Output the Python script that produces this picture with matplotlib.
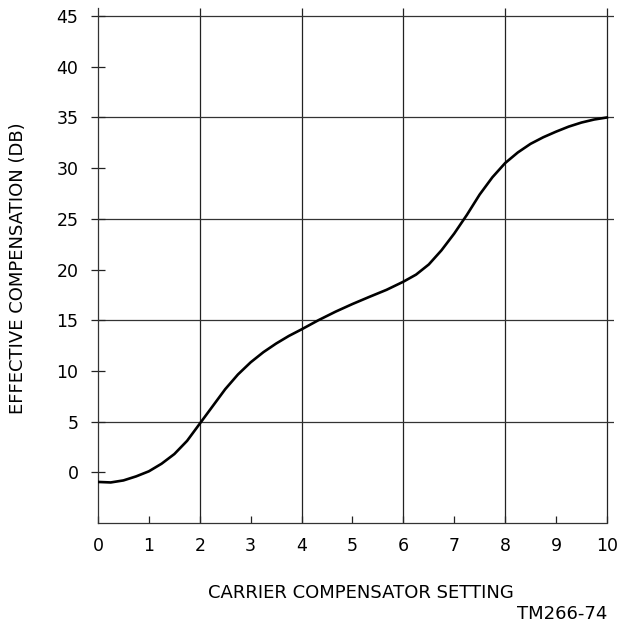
import numpy as np
import matplotlib.pyplot as plt

# ------------------------------------------------------------
# Data
# ------------------------------------------------------------
setting = [0.0, 0.25, 0.5, 0.75, 1.0, 1.25, 1.5, 1.75, 2.0, 2.25, 2.5, 2.75,
           3.0, 3.25, 3.5, 3.75, 4.0, 4.33, 4.67, 5.0, 5.33, 5.67, 6.0, 6.25,
           6.5, 6.75, 7.0, 7.25, 7.5, 7.75, 8.0, 8.25, 8.5, 8.75, 9.0, 9.25,
           9.5, 9.75, 10.0]
compensation = [-0.95, -1.0, -0.8, -0.4, 0.1, 0.85, 1.8, 3.1, 4.8, 6.5, 8.2, 9.65,
                10.85, 11.85, 12.7, 13.45, 14.1, 15.0, 15.85, 16.6, 17.3, 18.0, 18.8, 19.5,
                20.5, 21.9, 23.55, 25.4, 27.4, 29.1, 30.5, 31.55, 32.4, 33.05, 33.6, 34.1,
                34.5, 34.8, 35.0]

x_ticks = list(range(0, 11))
y_ticks = list(range(0, 50, 5))
x_grid = [2, 4, 6, 8, 10]
y_grid = [5, 15, 25, 35, 45]

# ------------------------------------------------------------
# Plot
# ------------------------------------------------------------
fig = plt.figure(figsize=(6.19, 6.24), dpi=100)
ax = fig.add_axes([98 / 619, 101 / 624, 516 / 619, 515 / 624])

ax.set_xlim(0, 10.14)
ax.set_ylim(-5, 45.8)

# grid
ax.vlines(x_grid, -5, 45.8, color='#222222', linewidth=0.9, zorder=1)
ax.hlines(y_grid, 0, 10.14, color='#333333', linewidth=0.9, zorder=1)

# curve
ax.plot(setting, compensation, color='black', linewidth=1.9, zorder=3,
        solid_joinstyle='round')

# frame: only left and bottom
ax.spines['top'].set_visible(False)
ax.spines['right'].set_visible(False)
ax.spines['bottom'].set_bounds(0, 10)
for s in ['left', 'bottom']:
    ax.spines[s].set_color('#333333')
    ax.spines[s].set_linewidth(0.9)

ax.set_xticks(x_ticks)
ax.set_xticklabels([str(v) for v in x_ticks])
ax.set_yticks(y_ticks)
ax.set_yticklabels([str(v) for v in y_ticks])
ax.tick_params(axis='x', direction='in', length=5, width=0.9, pad=10,
               labelsize=12.5, color='#222222')
ax.tick_params(axis='y', direction='inout', length=10, width=0.9, pad=9,
               labelsize=12.5, color='#222222')

fig.text(18 / 619, 1 - 268 / 624, 'EFFECTIVE COMPENSATION (DB)', rotation=90,
         ha='center', va='center', fontsize=13)
fig.text(361 / 619, 1 - 593 / 624, 'CARRIER COMPENSATOR SETTING',
         ha='center', va='center', fontsize=13)
fig.text(607 / 619, 1 - 614 / 624, 'TM266-74', ha='right', va='center', fontsize=13)

plt.savefig('out.png', dpi=100)
